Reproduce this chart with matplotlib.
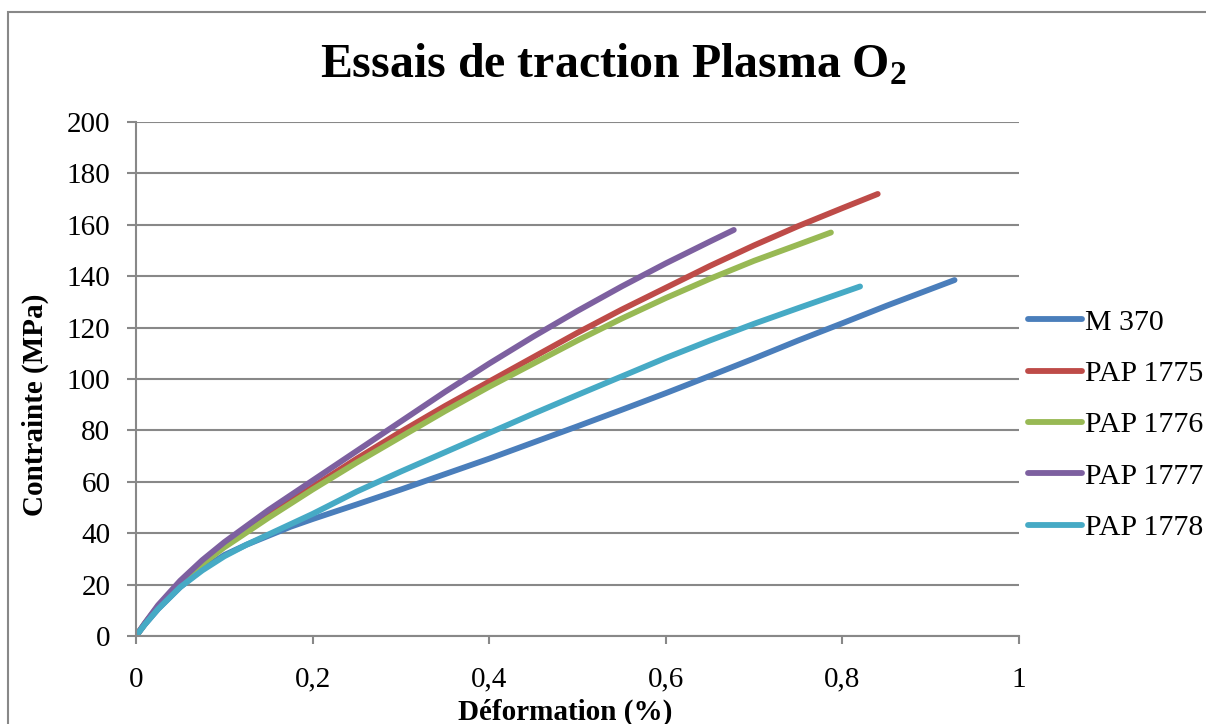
import matplotlib
matplotlib.use('Agg')
import matplotlib.pyplot as plt
import matplotlib.ticker as plticker
from matplotlib.patches import Rectangle

plt.rcParams['font.family'] = 'Liberation Serif'
plt.rcParams['mathtext.fontset'] = 'custom'
plt.rcParams['mathtext.rm'] = 'Liberation Serif'
plt.rcParams['mathtext.bf'] = 'Liberation Serif:bold'

# values (deformation %, stress MPa)
m370_x = [0, 0.01, 0.025, 0.05, 0.075, 0.1, 0.125, 0.15, 0.175, 0.2, 0.25, 0.3, 0.35,
          0.4, 0.45, 0.5, 0.55, 0.6, 0.65, 0.7, 0.75, 0.8, 0.85, 0.9, 0.927]
m370_y = [0, 4.5, 10.5, 19, 26, 31.5, 35.5, 39, 42.5, 45.5, 51.2, 57, 63,
          69, 75.3, 81.6, 88, 94.5, 101.2, 108, 115, 121.7, 128.5, 135, 138.5]
pap1775_x = [0, 0.01, 0.025, 0.05, 0.075, 0.1, 0.15, 0.2, 0.25, 0.3, 0.35,
             0.4, 0.45, 0.5, 0.55, 0.6, 0.65, 0.7, 0.75, 0.8, 0.84]
pap1775_y = [0, 4.8, 11.5, 20.5, 28.5, 35, 47, 58, 69, 79.5, 89.5,
             99, 108.5, 118, 127, 135.5, 144, 152, 159.5, 166.5, 172]
pap1776_x = [0, 0.01, 0.025, 0.05, 0.075, 0.1, 0.15, 0.2, 0.25, 0.3, 0.35,
             0.4, 0.45, 0.5, 0.55, 0.6, 0.65, 0.7, 0.75, 0.787]
pap1776_y = [0, 4.8, 11.5, 20.5, 28, 34.5, 46, 57, 67.5, 77.5, 87.5,
             97, 106, 115, 123.5, 131.5, 139, 146, 152.3, 157]
pap1777_x = [0, 0.01, 0.025, 0.05, 0.075, 0.1, 0.15, 0.2, 0.25, 0.3, 0.35,
             0.4, 0.45, 0.5, 0.55, 0.6, 0.65, 0.677]
pap1777_y = [0, 5, 12, 21.5, 29.5, 36.5, 49, 60.5, 72, 83.5, 95,
             106, 116.5, 126.5, 136, 145, 153.5, 158]
pap1778_x = [0, 0.01, 0.025, 0.05, 0.075, 0.1, 0.125, 0.15, 0.2, 0.25, 0.3, 0.35,
             0.4, 0.45, 0.5, 0.55, 0.6, 0.65, 0.7, 0.75, 0.8, 0.82]
pap1778_y = [0, 4.5, 10.5, 19, 25.5, 31, 35.5, 39.5, 47.5, 56.2, 64, 71.5,
             79, 86.5, 93.8, 101, 108.2, 115, 121.5, 127.6, 133.6, 136]

fig = plt.figure(figsize=(12.06, 7.24), dpi=100)
ax = fig.add_axes([136/1206, 1 - 636/724, 883/1206, 514/724])

lw = 4.2
ax.plot(m370_x, m370_y, color='#4A7EBB', lw=lw, label='M 370', solid_capstyle='round')
ax.plot(pap1775_x, pap1775_y, color='#BE4B48', lw=lw, label='PAP 1775', solid_capstyle='round')
ax.plot(pap1776_x, pap1776_y, color='#98B954', lw=lw, label='PAP 1776', solid_capstyle='round')
ax.plot(pap1777_x, pap1777_y, color='#7D60A0', lw=lw, label='PAP 1777', solid_capstyle='round')
ax.plot(pap1778_x, pap1778_y, color='#46AAC5', lw=lw, label='PAP 1778', solid_capstyle='round')

ax.set_xlim(0, 1)
ax.set_ylim(0, 200)
ax.xaxis.set_major_locator(plticker.MultipleLocator(0.2))
ax.yaxis.set_major_locator(plticker.MultipleLocator(20))
ax.xaxis.set_major_formatter(plticker.FuncFormatter(lambda v, p: ('%g' % round(v, 2)).replace('.', ',')))

ax.grid(axis='y', color='#888888', lw=1.5)
ax.set_axisbelow(True)
for s in ['top', 'right']:
    ax.spines[s].set_visible(False)
for s in ['left', 'bottom']:
    ax.spines[s].set_color('#888888')
    ax.spines[s].set_linewidth(1.5)
ax.tick_params(axis='y', direction='out', length=6.5, width=1.5, color='#888888', labelsize=21, pad=12)
ax.tick_params(axis='x', direction='out', length=6, width=1.5, color='#888888', labelsize=21, pad=16)

leg = ax.legend(loc='center left', bbox_to_anchor=((1028 - 136) / 883, (636 - 425) / 514),
                frameon=False, fontsize=21.5, handlelength=1.8, handletextpad=0.1,
                labelspacing=0.82, borderpad=0, borderaxespad=0)

fig.text(613/1206, 1 - 77/724, r'Essais de traction Plasma O$_\mathbf{2}$', fontsize=34.5,
         fontweight='bold', ha='center', va='baseline')
fig.text(565/1206, 1 - 712/724, 'Déformation (%)', fontsize=21, fontweight='bold',
         ha='center', va='center')
fig.text(35/1206, 1 - 405/724, 'Contrainte (MPa)', fontsize=21, fontweight='bold',
         ha='center', va='center', rotation=90)

fig.patches.append(Rectangle((8/1206, -0.1), 1.2, 1.1 - 12/724, transform=fig.transFigure,
                             fill=False, edgecolor='#888888', lw=1.5))

fig.savefig('out.png', dpi=100)
